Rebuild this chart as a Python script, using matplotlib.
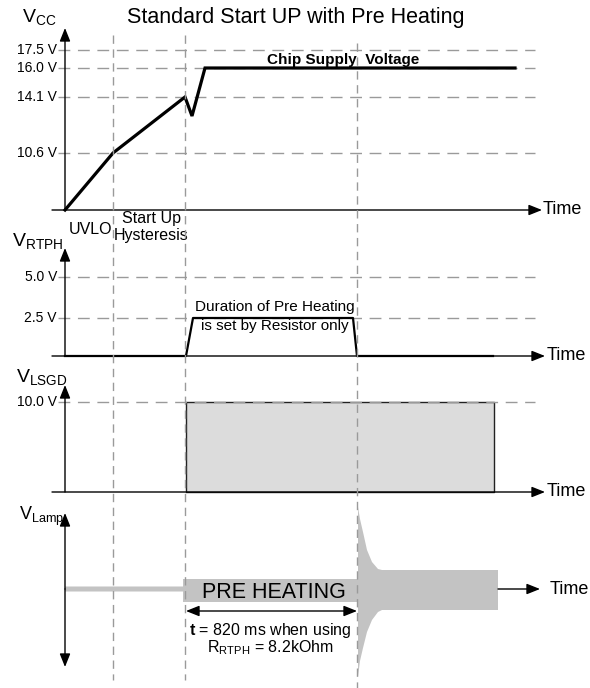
import numpy as np
import matplotlib
matplotlib.use("Agg")
import matplotlib.pyplot as plt

plt.rcParams["font.family"] = ["Liberation Sans", "DejaVu Sans"]
plt.rcParams["mathtext.fontset"] = "custom"
plt.rcParams["mathtext.rm"] = "Liberation Sans"
plt.rcParams["mathtext.bf"] = "Liberation Sans:bold"

# time axis in drawing units (schematic, origin at the y-axis)
t_marks = [48, 120, 292]          # UVLO end, pre heating start, pre heating end

# Vcc panel
vcc_labels = ["17.5 V", "16.0 V", "14.1 V", "10.6 V"]
vcc_levels = [160, 142, 113, 57]
vcc_t = [0, 48, 120, 127, 140, 450]
vcc_v = [0, 57, 113, 94, 142, 142]

# V_RTPH panel
rtph_labels = ["5.0 V", "2.5 V"]
rtph_levels = [79, 38]
rtph_t = [0, 121, 128, 288, 292, 428]
rtph_v = [0, 0, 38, 38, 0, 0]

# V_LSGD panel
lsgd_labels = ["10.0 V"]
lsgd_levels = [90]
lsgd_t = [121, 429]

# V_Lamp envelope
lamp_t = [0, 118, 118, 293, 293, 295, 298, 302, 307, 313, 317, 433]
lamp_top = [2.5, 2.5, 10, 10, 82, 70, 57, 39, 27, 20, 19, 19]
lamp_bot = [-2.5, -2.5, -13, -13, -88, -72, -59, -43, -31, -23, -21, -21]

W, H = 590, 688
XL = (-65, 525)
GRAY = "#9a9a9a"

fig = plt.figure(figsize=(W / 100, H / 100), dpi=100)


def panel(top, bottom, base):
    ax = fig.add_axes([0, (H - bottom) / H, 1, (bottom - top) / H])
    ax.set_xlim(*XL)
    ax.set_ylim(-(bottom - base), base - top)
    ax.axis("off")
    return ax


def arrow(ax, start, tip):
    ax.annotate("", xy=tip, xytext=start,
                arrowprops=dict(arrowstyle="-|>,head_length=0.5,head_width=0.2",
                                color="k", lw=1, mutation_scale=16,
                                shrinkA=0, shrinkB=0))


def levels(ax, labels, lv, x0=-7, x1=470):
    for lab, y in zip(labels, lv):
        ax.plot([x0, x1], [y, y], color=GRAY, lw=1, dashes=(8.5, 5.5))
        ax.text(-8, y, lab, ha="right", va="center", fontsize=10)


# --- Vcc ---
ax1 = panel(0, 240, 210)
levels(ax1, vcc_labels, vcc_levels)
ax1.plot(vcc_t, vcc_v, color="k", lw=2.3, solid_joinstyle="miter")
arrow(ax1, (0, 0), (0, 182))
arrow(ax1, (-13, 0), (477, 0))
ax1.text(478, 0, "Time", ha="left", va="center", fontsize=13)
ax1.text(-43, 192, r"V$_\mathregular{CC}$", ha="left", va="center", fontsize=14)
ax1.text(202, 150, "Chip Supply  Voltage", ha="left", va="center",
         fontsize=11, fontweight="bold")
ax1.text(25, -20, "UVLO", ha="center", va="center", fontsize=11.5)
ax1.text(86, -9, "Start Up", ha="center", va="center", fontsize=11.5)
ax1.text(86, -26, "Hysteresis", ha="center", va="center", fontsize=11.5)

# --- V_RTPH ---
ax2 = panel(240, 380, 356)
levels(ax2, rtph_labels, rtph_levels)
ax2.plot(rtph_t, rtph_v, color="k", lw=1.6)
arrow(ax2, (0, 0), (0, 108))
arrow(ax2, (-13, 0), (480, 0))
ax2.text(482, 0, "Time", ha="left", va="center", fontsize=13)
ax2.text(-53, 114, r"V$_\mathregular{RTPH}$", ha="left", va="center", fontsize=14)
ax2.text(210, 49, "Duration of Pre Heating", ha="center", va="center", fontsize=11)
ax2.text(210, 30, "is set by Resistor only", ha="center", va="center", fontsize=11)

# --- V_LSGD ---
ax3 = panel(380, 500, 492)
levels(ax3, lsgd_labels, lsgd_levels)
ax3.fill_between(lsgd_t, 0, lsgd_levels[0], facecolor="#dcdcdc",
                 edgecolor="#222222", lw=1)
arrow(ax3, (0, 0), (0, 107))
arrow(ax3, (-13, 0), (480, 0))
ax3.text(482, 0, "Time", ha="left", va="center", fontsize=13)
ax3.text(-49, 114, r"V$_\mathregular{LSGD}$", ha="left", va="center", fontsize=14)

# --- V_Lamp ---
ax4 = panel(500, 688, 589)
ax4.fill_between(lamp_t, lamp_bot, lamp_top, facecolor="#c3c3c3",
                 edgecolor="none", lw=0)
arrow(ax4, (0, 0), (0, 76))
arrow(ax4, (0, 0), (0, -78))
arrow(ax4, (433, 0), (475, 0))
ax4.text(485, 0, "Time", ha="left", va="center", fontsize=13)
ax4.text(-46, 73, r"V$_\mathregular{Lamp}$", ha="left", va="center", fontsize=13)
ax4.text(209, -3, "PRE HEATING", ha="center", va="center", fontsize=15.5)
ax4.annotate("", xy=(121, -22), xytext=(292, -22),
             arrowprops=dict(arrowstyle="<|-|>,head_length=0.5,head_width=0.2",
                             color="k", lw=1, mutation_scale=16,
                             shrinkA=0, shrinkB=0))
ax4.text(205, -41, r"$\mathbf{t}$ = 820 ms when using", ha="center", va="center",
         fontsize=11.5)
ax4.text(205, -59, r"R$_\mathregular{RTPH}$ = 8.2kOhm", ha="center", va="center",
         fontsize=11.5)

# vertical guide lines across all panels (drawn on top)
bg = fig.add_axes([0, 0, 1, 1], zorder=10)
bg.set_xlim(*XL)
bg.set_ylim(H, 0)
bg.axis("off")
bg.patch.set_alpha(0)
for t, y0, y1 in zip(t_marks, [35, 35, 43], [680, 680, 688]):
    bg.plot([t, t], [y0, y1], color=GRAY, lw=1, dashes=(6, 4))

fig.text(296 / W, 1 - 18 / H, "Standard Start UP with Pre Heating",
         ha="center", va="center", fontsize=15.5)

fig.savefig("out.png", dpi=100)
